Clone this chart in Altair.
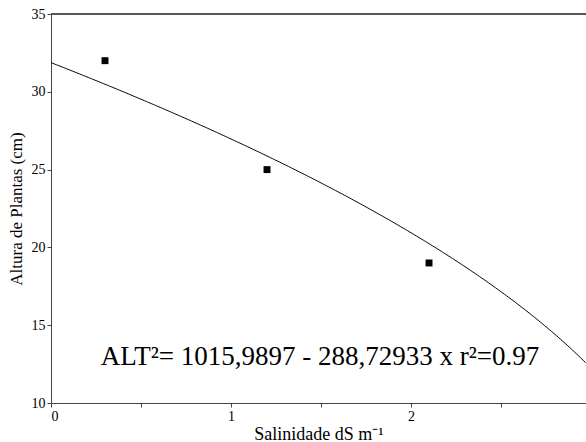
import altair as alt
import pandas as pd
import numpy as np

# Observed points
salinity = [0.3, 1.2, 2.1]
height = [32, 25, 19]

# Fitted model printed on the chart: ALT^2 = A - B * x
coef_a = 1015.9897
coef_b = 288.72933
curve_x = [round(v, 3) for v in np.arange(0, 2.975, 0.01)]

x_ticks = [0, 0.5, 1, 1.5, 2, 2.5]
y_ticks = [10, 15, 20, 25, 30, 35]
equation = "ALT²= 1015,9897 - 288,72933 x r²=0.97"

pts = pd.DataFrame({"x": salinity, "y": height})
crv = pd.DataFrame({"x": curve_x})

FONT = "Liberation Serif"
xscale = alt.Scale(domain=[0, 2.972], nice=False, zero=False)
yscale = alt.Scale(domain=[10, 35], nice=False, zero=False)

xaxis = alt.Axis(values=x_ticks, labelExpr="datum.value % 1 == 0 ? format(datum.value, 'd') : ''",
                 title="Salinidade dS m⁻¹", grid=False, tickSize=4, labelPadding=2,
                 titlePadding=2, titleFontSize=18, domainColor="#444", tickColor="#444")
yaxis = alt.Axis(values=y_ticks, title="Altura de Plantas (cm)", grid=False, tickSize=4,
                 labelPadding=2, titlePadding=6, titleFontSize=17, domainColor="#444", tickColor="#444")

curve = alt.Chart(crv).transform_calculate(
    y=f"sqrt({coef_a} - {coef_b} * datum.x)"
).mark_line(color="black", strokeWidth=1, clip=True).encode(
    x=alt.X("x:Q", scale=xscale, axis=xaxis),
    y=alt.Y("y:Q", scale=yscale, axis=yaxis),
)

points = alt.Chart(pts).mark_square(color="black", size=48, opacity=1).encode(
    x=alt.X("x:Q", scale=xscale),
    y=alt.Y("y:Q", scale=yscale),
)

top_line = alt.Chart(pts).mark_rule(color="#555", strokeWidth=1.5).encode(
    x=alt.value(0), x2=alt.value(535), y=alt.value(0)
)

label = alt.Chart(pd.DataFrame({"t": [equation]})).mark_text(
    font=FONT, fontSize=27, color="black", align="center", baseline="alphabetic"
).encode(text="t:N", x=alt.value(320 - 51), y=alt.value(365 - 14))

chart = alt.layer(curve, points, top_line, label).properties(
    width=535, height=389,
    padding={"left": 51, "top": 14, "right": 0, "bottom": 39},
    autosize=alt.AutoSizeParams(type="none"),
).configure_view(stroke=None).configure_axis(
    labelFont=FONT, titleFont=FONT, labelFontSize=14,
    labelColor="black", titleColor="black", titleFontWeight="normal",
)

chart.save("out.html", embed_options={"renderer": "svg", "actions": False})
